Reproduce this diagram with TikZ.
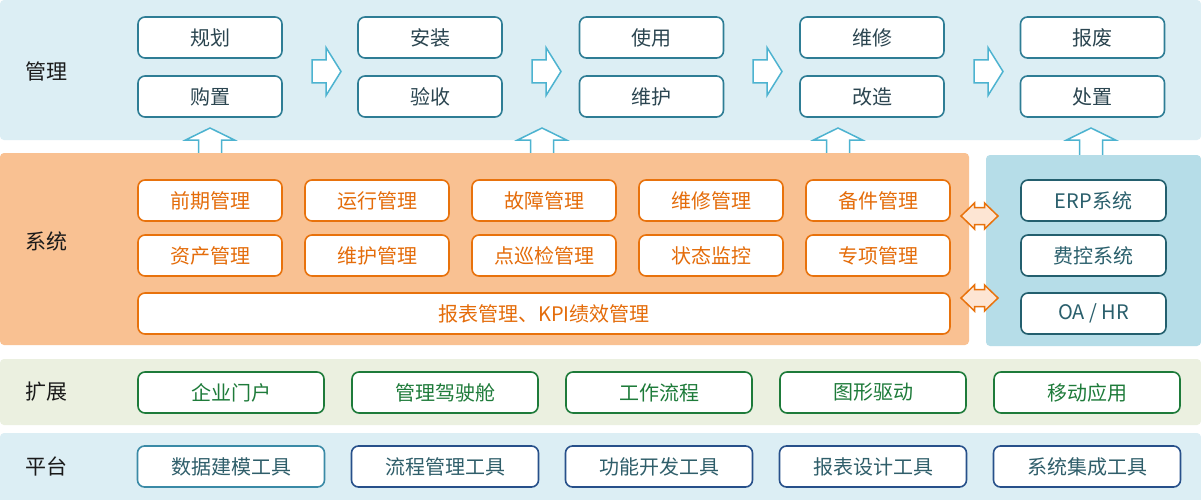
\documentclass[tikz,border=0pt]{standalone}
\usepackage{fontspec}
\setmainfont{Noto Sans CJK SC}
\definecolor{mgmtbg}{HTML}{DCEEF4}
\definecolor{mgmtB}{HTML}{2E7D95}
\definecolor{mgmtT}{HTML}{2B4550}
\definecolor{arrB}{HTML}{4DB3D0}
\definecolor{sysbg}{HTML}{F9C192}
\definecolor{sysB}{HTML}{E8720C}
\definecolor{sysT}{HTML}{E46C0A}
\definecolor{dblF}{HTML}{FDE5D3}
\definecolor{rbg}{HTML}{B6DDE8}
\definecolor{rB}{HTML}{235F6E}
\definecolor{rT}{HTML}{2A5F6C}
\definecolor{extbg}{HTML}{EBF0E0}
\definecolor{extB}{HTML}{1E7B3A}
\definecolor{extT}{HTML}{1E7B3A}
\definecolor{platbg}{HTML}{DCEEF4}
\definecolor{platBa}{HTML}{3A8AA6}
\definecolor{platBb}{HTML}{27508A}
\definecolor{platT}{HTML}{2F5E6A}
\definecolor{labT}{HTML}{1A1A1A}
\begin{document}
\begin{tikzpicture}[x=1pt,y=-1pt,font=\fontsize{20}{24}\selectfont,
  band/.style={rounded corners=4pt,draw=none},
  box/.style={draw,line width=1.6pt,rounded corners=7pt,fill=white,minimum height=41pt,inner sep=0pt},
  mbox/.style={box,draw=mgmtB,text=mgmtT,minimum width=144pt},
  sbox/.style={box,draw=sysB,text=sysT,minimum width=144pt},
  rbox/.style={box,draw=rB,text=rT,minimum width=145pt},
  ebox/.style={box,draw=extB,text=extT,minimum width=186pt},
  pboxa/.style={box,draw=platBa,text=platT,minimum width=187pt},
  pboxb/.style={box,draw=platBb,text=platT,minimum width=187pt},
  lab/.style={text=labT,font=\fontsize{21}{24}\selectfont},
  blockarrow/.style={draw=arrB,line width=1.5pt,fill=white,line join=miter},
  dblarrow/.style={draw=sysB,line width=1.5pt,fill=dblF,line join=miter},
  rarrow/.pic={\path[blockarrow] (0,-11.5) -- (14,-11.5) -- (14,-24) -- (29,0) -- (14,24) -- (14,11.5) -- (0,11.5) -- cycle;},
  uarrow/.pic={\path[blockarrow] (0,0) -- (24.5,12) -- (11.5,12) -- (11.5,28) -- (-11.5,28) -- (-11.5,12) -- (-24.5,12) -- cycle;},
  darrow/.pic={\path[dblarrow] (-18.5,0) -- (-5,-13) -- (-5,-8.5) -- (5,-8.5) -- (5,-13) -- (18.5,0) -- (5,13) -- (5,8.5) -- (-5,8.5) -- (-5,13) -- cycle;}
]
\useasboundingbox (0,0) rectangle (1201,500);
\fill[white] (0,0) rectangle (1201,500);
% bands
\path[band,fill=mgmtbg] (0,0) rectangle (1201,140);
% up arrows (drawn behind the lower bands)
\pic at (210,128) {uarrow};
\pic at (542,128) {uarrow};
\pic at (838,128) {uarrow};
\pic at (1091,128) {uarrow};
\path[band,fill=sysbg] (0,153) rectangle (969,345);
\path[band,fill=rbg] (986,155) rectangle (1201,346);
\path[band,fill=extbg] (0,359) rectangle (1201,425);
\path[band,fill=platbg] (0,433) rectangle (1201,504);
% left labels
\node[lab] (lm) at (46,71) {管理};
\node[lab] (ls) at (46,241) {系统};
\node[lab] (le) at (46,392) {扩展};
\node[lab] (lp) at (46,466) {平台};
% management
\node[mbox] (m11) at (210,37.5) {规划};
\node[mbox] (m12) at (210,96.5) {购置};
\node[mbox] (m21) at (430,37.5) {安装};
\node[mbox] (m22) at (430,96.5) {验收};
\node[mbox] (m31) at (651.5,37.5) {使用};
\node[mbox] (m32) at (651.5,96.5) {维护};
\node[mbox] (m41) at (872,37.5) {维修};
\node[mbox] (m42) at (872,96.5) {改造};
\node[mbox] (m51) at (1092.5,37.5) {报废};
\node[mbox] (m52) at (1092.5,96.5) {处置};
\pic at (312,71.5) {rarrow};
\pic at (532,71.5) {rarrow};
\pic at (753,71.5) {rarrow};
\pic at (974,71.5) {rarrow};
% system
\node[sbox] (s11) at (210,200.5) {前期管理};
\node[sbox] (s12) at (377,200.5) {运行管理};
\node[sbox] (s13) at (544,200.5) {故障管理};
\node[sbox] (s14) at (711,200.5) {维修管理};
\node[sbox] (s15) at (878,200.5) {备件管理};
\node[sbox] (s21) at (210,255.5) {资产管理};
\node[sbox] (s22) at (377,255.5) {维护管理};
\node[sbox] (s23) at (544,255.5) {点巡检管理};
\node[sbox] (s24) at (711,255.5) {状态监控};
\node[sbox] (s25) at (878,255.5) {专项管理};
\node[sbox,minimum width=812pt] (s3) at (544,313.5) {报表管理、KPI绩效管理};
\node[rbox] (r1) at (1093.5,200.5) {ERP系统};
\node[rbox] (r2) at (1093.5,255.5) {费控系统};
\node[rbox] (r3) at (1093.5,313.5) {OA / HR};
\pic at (979.5,216) {darrow};
\pic at (979.5,298) {darrow};
% extension
\node[ebox] (e1) at (231,392.5) {企业门户};
\node[ebox] (e2) at (445,392.5) {管理驾驶舱};
\node[ebox] (e3) at (659,392.5) {工作流程};
\node[ebox] (e4) at (873,392.5) {图形驱动};
\node[ebox] (e5) at (1087,392.5) {移动应用};
% platform
\node[pboxa] (p1) at (231,466.5) {数据建模工具};
\node[pboxb] (p2) at (445,466.5) {流程管理工具};
\node[pboxb] (p3) at (659,466.5) {功能开发工具};
\node[pboxb] (p4) at (873,466.5) {报表设计工具};
\node[pboxb] (p5) at (1087,466.5) {系统集成工具};
\end{tikzpicture}
\end{document}
